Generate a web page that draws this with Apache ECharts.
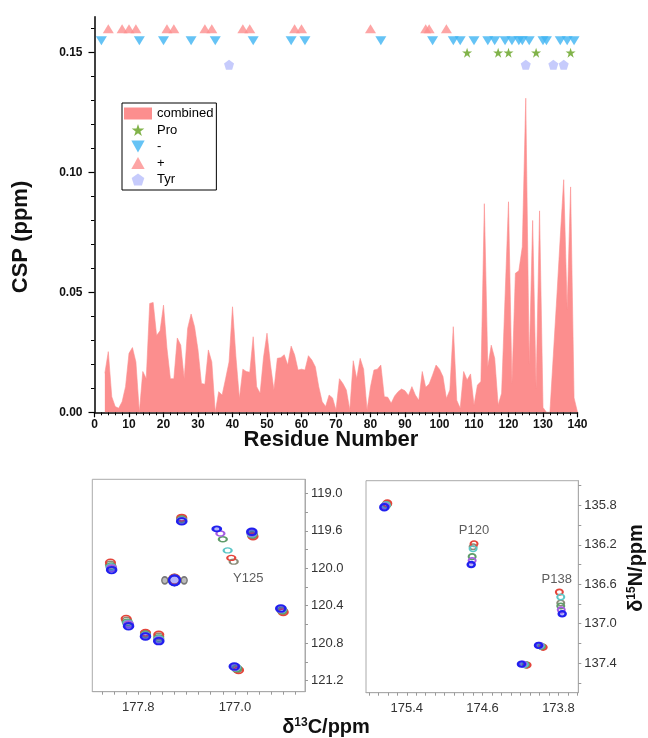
<!DOCTYPE html>
<html><head><meta charset="utf-8">
<script src="https://cdn.jsdelivr.net/npm/echarts@6/dist/echarts.min.js"></script>
<style>html,body{margin:0;padding:0;background:#fff}#c{width:648px;height:738px}</style>
</head><body><div id="c"></div>
<script>
// ---------- top chart data ----------
const cspValues = [null,null,null,
0.0163,0.0253,0.0065,0.0024,0.0017,0.0044,0.0107,0.0246,0.027,0.021,
0.0,0.017,0.014,0.0454,0.0458,0.032,0.034,0.0447,0.0267,0.014,
0.014,0.031,0.028,0.014,0.035,0.041,0.0357,0.026,0.012,0.0117,
0.026,0.021,0.0,0.0086,0.0072,0.014,0.021,0.044,0.023,0.0058,
0.018,0.017,0.0167,0.0315,0.0107,0.0079,0.023,0.033,0.020,0.0093,
0.0225,0.0228,0.024,0.0197,0.0276,0.024,0.0176,0.018,0.0176,0.0236,
0.0218,0.019,0.0107,0.0044,0.0024,0.0072,0.006,0.001,0.014,0.012,
0.0093,0.001,0.0215,0.014,0.0225,0.018,0.001,0.0107,0.0176,0.018,
0.0197,0.0065,0.0063,0.0038,0.0068,0.0086,0.0097,0.009,0.007,0.0107,
0.0072,0.005,0.017,0.0104,0.0118,0.0156,0.0197,0.018,0.0149,0.0058,
0.0093,0.0357,0.005,0.0017,0.017,0.0135,0.016,0.003,0.0114,0.0128,
0.087,0.019,0.028,0.0225,0.003,0.0079,0.048,0.0878,0.012,0.058,
0.059,0.069,0.131,0.02,0.080,0.01,0.084,0.002,0,0,
0.024,0.048,0.073,0.097,0.043,0.094,0.006,0.0];
const plusResidues  = [4,8,10,12,21,23,32,34,43,45,58,60,80,96,97,102];
const minusResidues = [2,13,20,28,35,46,57,61,83,98,104,106,110,114,116,119,121,123,124,126,130,131,135,137,139];
const proResidues   = [108,117,120,128,138];
const tyrResidues   = [39,125,133,136];
const markerLevels  = {plus:0.16, minus:0.155, pro:0.15, tyr:0.145};
const yMajorTicks = [0,0.05,0.10,0.15];
const yMinorTicks = [0.01,0.02,0.03,0.04,0.06,0.07,0.08,0.09,0.11,0.12,0.13,0.14,0.16];

// ---------- NMR panels data ----------
// panel A (13C x, 15N y) peaks, one array per titration colour
const aGray   = [[177.44,119.47],[178.03,119.96],[177.50,120.12],[176.855,119.65],[177.01,119.93],[176.605,120.46],[177.895,120.56],[177.74,120.70],[177.63,120.73],[176.98,121.08]];
const aRed    = [[177.44,119.46],[178.03,119.94],[177.50,120.12],[176.85,119.66],[177.03,119.89],[176.60,120.47],[177.90,120.54],[177.74,120.69],[177.63,120.71],[176.97,121.09]];
const aGreen  = [[177.44,119.48],[178.025,119.98],[177.50,120.13],[176.855,119.64],[177.10,119.69],[176.61,120.45],[177.89,120.58],[177.74,120.71],[177.63,120.75],[176.985,121.07]];
const aCyan   = [[177.44,119.49],[178.025,119.99],[177.50,120.13],[176.86,119.63],[177.06,119.81],[176.615,120.44],[177.885,120.59],[177.74,120.72],[177.63,120.76],[176.995,121.06]];
const aPurple = [[177.44,119.495],[178.02,120.0],[177.50,120.13],[176.86,119.62],[177.12,119.63],[176.62,120.435],[177.88,120.60],[177.74,120.725],[177.63,120.77],[177.0,121.055]];
const aBlue   = [[177.44,119.50],[178.02,120.02],[177.50,120.13],[176.86,119.61],[177.15,119.58],[176.62,120.43],[177.88,120.62],[177.74,120.73],[177.63,120.78],[177.005,121.05]];
const aSide   = [[177.58,120.13],[177.42,120.13]];
// panel B
const bGray   = [[175.61,135.79],[174.70,136.22],[173.775,136.79],[173.97,137.235],[174.14,137.42]];
const bRed    = [[175.605,135.78],[174.69,136.19],[173.79,136.68],[173.96,137.24],[174.13,137.42]];
const bGreen  = [[175.62,135.80],[174.71,136.32],[173.775,136.82],[173.98,137.23],[174.15,137.415]];
const bCyan   = [[175.62,135.80],[174.70,136.24],[173.775,136.73],[173.99,137.225],[174.16,137.415]];
const bPurple = [[175.63,135.81],[174.71,136.36],[173.77,136.86],[174.0,137.22],[174.175,137.41]];
const bBlue   = [[175.637,135.82],[174.72,136.40],[173.76,136.90],[174.01,137.22],[174.19,137.41]];
const annotA = [{name:'Y125', value:[176.89,120.11]}];
const annotB = [{name:'P120', value:[174.69,136.05]},{name:'P138', value:[173.817,136.55]}];

const aXLabels = [177.8,177.0];
const aXTicks  = [176.5,176.6,176.7,176.8,176.9,177.0,177.1,177.2,177.3,177.4,177.5,177.6,177.7,177.8,177.9,178.0,178.1];
const aYLabelValues = [119.2,119.6,120.0,120.4,120.8,121.2];
const aYLabelTexts  = ['119.0','119.6','120.0','120.4','120.8','121.2'];
const aYTicks  = [119.2,119.4,119.6,119.8,120.0,120.2,120.4,120.6,120.8,121.0,121.2];
const bXLabels = [175.4,174.6,173.8];
const bXTicks  = [173.6,173.7,173.8,173.9,174.0,174.1,174.2,174.3,174.4,174.5,174.6,174.7,174.8,174.9,175.0,175.1,175.2,175.3,175.4,175.5,175.6,175.7,175.8];
const bYLabels = [135.8,136.2,136.6,137.0,137.4];
const bYTicks  = [135.6,135.8,136.0,136.2,136.4,136.6,136.8,137.0,137.2,137.4,137.6];

// ---------- rendering ----------
const FONT = '"Liberation Sans", Arial, sans-serif';
const PINK = '#fc8e8e', BLUE = '#3eb4f2', GREEN = '#62a01d', LAV = '#b8befb';
const STAR = 'path://M50,0 L61.2,34.5 L97.6,34.5 L68.2,55.9 L79.4,90.5 L50,69.1 L20.6,90.5 L31.8,55.9 L2.4,34.5 L38.8,34.5 Z';
const PENT = 'path://M50,0 L97.6,34.5 L79.4,90.5 L20.6,90.5 L2.4,34.5 Z';
const TRI_UP = 'path://M5,0 L10,9 L0,9 Z';
const TRI_DN = 'path://M0,0 L10,0 L5,9 Z';

const chart = echarts.init(document.getElementById('c'), null, {renderer:'canvas'});

const areaData = cspValues.map((v,i)=>[i,v]);
const lvl = (arr,l)=>arr.map(r=>[r,l]);

function peakSeries(name, data, color, xi, yi, fill, bw, sizeFn){
  return {type:'scatter', name, xAxisIndex:xi, yAxisIndex:yi, data, symbol:'circle',
    symbolSize:sizeFn, z:3,
    itemStyle:{color:fill, borderColor:color, borderWidth:bw, opacity:1},
    emphasis:{disabled:true}, silent:true};
}
const sizeA = (v,p)=> p.dataIndex===2 ? [11,10] : (p.dataIndex===4 ? [8,5] : [9,6.5]);
const sizeB = (v,p)=> p.dataIndex===0 ? [8,6.5] : [7,5.5];
const COLS = {gray:'#8b8b78', red:'#e4453b', green:'#5f9c6a', cyan:'#5cc6c6', purple:'#a45ce2', blue:'#2020ee'};

const panelAxisLine = {show:true, lineStyle:{color:'#aaa', width:1}};
const panelLabel = {color:'#333', fontSize:13, fontFamily:FONT};

const option = {
  backgroundColor:'#fff',
  animation:false,
  textStyle:{fontFamily:FONT},
  grid:[
    {left:94.5, top:16.7, width:483, height:395.6},
    {left:92.3, top:479.3, width:212.7, height:212.4, show:true, borderColor:'#aaa', borderWidth:1},
    {left:366, top:480.7, width:212.3, height:212, show:true, borderColor:'#aaa', borderWidth:1}
  ],
  legend:{
    orient:'vertical', left:122, top:103, padding:[4,3,4,2], itemGap:3.5,
    itemWidth:28, itemHeight:12, borderColor:'#000', borderWidth:1,
    textStyle:{fontSize:13, color:'#000', fontFamily:FONT},
    data:[{name:'combined', icon:'rect'},{name:'Pro', icon:STAR},{name:'-', icon:TRI_DN},{name:'+', icon:TRI_UP},{name:'Tyr', icon:PENT}]
  },
  xAxis:[
    {gridIndex:0, type:'value', min:0, max:140, interval:10,
      axisLine:{show:true, onZero:false, lineStyle:{color:'#000', width:1.5}},
      axisTick:{show:true, length:5, lineStyle:{color:'#000', width:1.2}},
      minorTick:{show:true, splitNumber:5, length:3, lineStyle:{color:'#000', width:1}},
      axisLabel:{fontSize:12, fontWeight:'bold', color:'#111', margin:6},
      splitLine:{show:false}},
    {gridIndex:1, type:'value', min:176.42, max:178.18, inverse:true,
      axisLine:panelAxisLine,
      axisTick:{show:true, length:3, customValues:aXTicks, lineStyle:{color:'#999'}},
      axisLabel:Object.assign({customValues:aXLabels, formatter:v=>v.toFixed(1), margin:9}, panelLabel),
      splitLine:{show:false}},
    {gridIndex:2, type:'value', min:173.59, max:175.83, inverse:true,
      axisLine:panelAxisLine,
      axisTick:{show:true, length:3, customValues:bXTicks, lineStyle:{color:'#999'}},
      axisLabel:Object.assign({customValues:bXLabels, formatter:v=>v.toFixed(1), margin:9}, panelLabel),
      splitLine:{show:false}}
  ],
  yAxis:[
    {gridIndex:0, type:'value', min:0, max:0.165, position:'left',
      axisLine:{show:true, onZero:false, lineStyle:{color:'#000', width:1.5}},
      axisTick:{show:true, length:6, customValues:yMajorTicks, lineStyle:{color:'#000', width:1.2}},
      axisLabel:{customValues:yMajorTicks, formatter:v=>v.toFixed(2), fontSize:12, fontWeight:'bold', color:'#111', margin:12},
      splitLine:{show:false}},
    {gridIndex:0, type:'value', min:0, max:0.165, position:'left', offset:0,
      axisLine:{show:false},
      axisTick:{show:true, length:3.5, customValues:yMinorTicks, lineStyle:{color:'#000', width:1}},
      axisLabel:{show:false}, splitLine:{show:false}},
    {gridIndex:1, type:'value', min:119.05, max:121.32, inverse:true, position:'right',
      axisLine:panelAxisLine,
      axisTick:{show:true, length:3, customValues:aYTicks, lineStyle:{color:'#999'}},
      axisLabel:Object.assign({customValues:aYLabelValues,
        formatter:v=>{const k=aYLabelValues.findIndex(t=>Math.abs(t-v)<1e-6); return k>=0?aYLabelTexts[k]:'';}, margin:6}, panelLabel),
      splitLine:{show:false}},
    {gridIndex:2, type:'value', min:135.55, max:137.70, inverse:true, position:'right',
      axisLine:panelAxisLine,
      axisTick:{show:true, length:3, customValues:bYTicks, lineStyle:{color:'#999'}},
      axisLabel:Object.assign({customValues:bYLabels, formatter:v=>v.toFixed(1), margin:6}, panelLabel),
      splitLine:{show:false}}
  ],
  series:[
    {type:'line', name:'combined', xAxisIndex:0, yAxisIndex:0, data:areaData, showSymbol:false, symbol:'none',
      connectNulls:false, color:PINK, lineStyle:{width:0.6, color:PINK}, areaStyle:{color:PINK, opacity:1}, z:2, silent:true},
    {type:'scatter', name:'Pro', xAxisIndex:0, yAxisIndex:0, data:lvl(proResidues, markerLevels.pro), symbol:STAR, symbolSize:10, color:GREEN, itemStyle:{color:GREEN}, z:4},
    {type:'scatter', name:'-', xAxisIndex:0, yAxisIndex:0, data:lvl(minusResidues, markerLevels.minus), symbol:TRI_DN, symbolSize:[11,9], color:BLUE, itemStyle:{color:BLUE}, z:4},
    {type:'scatter', name:'+', xAxisIndex:0, yAxisIndex:0, data:lvl(plusResidues, markerLevels.plus), symbol:TRI_UP, symbolSize:[11,9], color:PINK, itemStyle:{color:PINK}, z:4},
    {type:'scatter', name:'Tyr', xAxisIndex:0, yAxisIndex:0, data:lvl(tyrResidues, markerLevels.tyr), symbol:PENT, symbolSize:10, color:LAV, itemStyle:{color:LAV}, z:4},

    peakSeries('aSide', aSide, '#777', 1, 2, 'rgba(120,120,120,0.5)', 1.5, [6,7]),
    peakSeries('aGray', aGray, COLS.gray, 1, 2, 'rgba(0,0,0,0)', 1.8, sizeA),
    peakSeries('aRed', aRed, COLS.red, 1, 2, 'rgba(0,0,0,0)', 1.8, sizeA),
    peakSeries('aGreen', aGreen, COLS.green, 1, 2, 'rgba(0,0,0,0)', 1.8, sizeA),
    peakSeries('aCyan', aCyan, COLS.cyan, 1, 2, 'rgba(0,0,0,0)', 1.8, sizeA),
    peakSeries('aPurple', aPurple, COLS.purple, 1, 2, 'rgba(0,0,0,0)', 1.8, sizeA),
    peakSeries('aBlue', aBlue, COLS.blue, 1, 2, 'rgba(40,40,240,0.35)', 2.2, sizeA),

    peakSeries('bGray', bGray, COLS.gray, 2, 3, 'rgba(0,0,0,0)', 1.8, sizeB),
    peakSeries('bRed', bRed, COLS.red, 2, 3, 'rgba(0,0,0,0)', 1.8, sizeB),
    peakSeries('bGreen', bGreen, COLS.green, 2, 3, 'rgba(0,0,0,0)', 1.8, sizeB),
    peakSeries('bCyan', bCyan, COLS.cyan, 2, 3, 'rgba(0,0,0,0)', 1.8, sizeB),
    peakSeries('bPurple', bPurple, COLS.purple, 2, 3, 'rgba(0,0,0,0)', 1.8, sizeB),
    peakSeries('bBlue', bBlue, COLS.blue, 2, 3, 'rgba(40,40,240,0.35)', 2.2, sizeB),

    {type:'scatter', name:'annA', xAxisIndex:1, yAxisIndex:2, data:annotA, symbolSize:0, silent:true,
      label:{show:true, position:'inside', formatter:p=>p.name, color:'#333', fontSize:13, fontFamily:FONT}},
    {type:'scatter', name:'annB', xAxisIndex:2, yAxisIndex:3, data:annotB, symbolSize:0, silent:true,
      label:{show:true, position:'inside', formatter:p=>p.name, color:'#333', fontSize:13, fontFamily:FONT}}
  ],
  graphic:[
    {type:'text', x:21, y:237, rotation:Math.PI/2,
      style:{text:'CSP (ppm)', font:'bold 22px '+FONT, fill:'#111', textAlign:'center', textVerticalAlign:'middle', align:'center', verticalAlign:'middle'}},
    {type:'text', x:331, y:440,
      style:{text:'Residue Number', font:'bold 22px '+FONT, fill:'#111', textAlign:'center', textVerticalAlign:'middle', align:'center', verticalAlign:'middle'}},
    {type:'text', x:326, y:727,
      style:{text:'δ{s|13}C/ppm', font:'bold 20px '+FONT, fill:'#111', textAlign:'center', textVerticalAlign:'middle', align:'center', verticalAlign:'middle',
        rich:{s:{fontSize:12, fontWeight:'bold', fontFamily:FONT, fill:'#111', verticalAlign:'top', textVerticalAlign:'top'}}}},
    {type:'text', x:636, y:568, rotation:Math.PI/2,
      style:{text:'δ{s|15}N/ppm', font:'bold 20px '+FONT, fill:'#111', textAlign:'center', textVerticalAlign:'middle', align:'center', verticalAlign:'middle',
        rich:{s:{fontSize:12, fontWeight:'bold', fontFamily:FONT, fill:'#111', verticalAlign:'top', textVerticalAlign:'top'}}}}
  ]
};
chart.setOption(option);
</script>
</body></html>
